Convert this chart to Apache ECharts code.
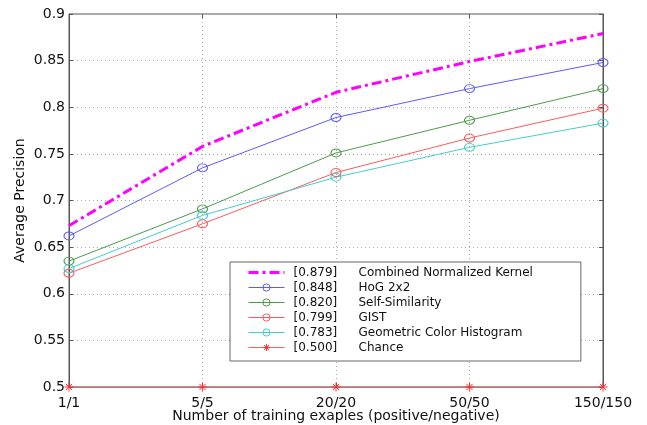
<!DOCTYPE html>
<html>
<head>
<meta charset="utf-8">
<script src="https://cdn.jsdelivr.net/npm/echarts@6/dist/echarts.min.js"></script>
<style>
  html, body { margin: 0; padding: 0; background: #fff; }
  #chart { width: 647px; height: 425px; }
</style>
</head>
<body>
<div id="chart"></div>
<script>
// data
const categories = ["1/1", "5/5", "20/20", "50/50", "150/150"];
const combined = [0.673, 0.758, 0.816, 0.849, 0.879];
const hog = [0.662, 0.735, 0.789, 0.820, 0.848];
const selfSim = [0.635, 0.691, 0.751, 0.786, 0.820];
const gist = [0.622, 0.675, 0.730, 0.767, 0.799];
const geoColor = [0.627, 0.684, 0.725, 0.757, 0.783];
const chance = [0.5, 0.5, 0.5, 0.5, 0.5];
const names = ["Combined Normalized Kernel", "HoG 2x2", "Self-Similarity", "GIST", "Geometric Color Histogram", "Chance"];
const scores = ["[0.879]", "[0.848]", "[0.820]", "[0.799]", "[0.783]", "[0.500]"];

const FONT = "DejaVu Sans";
const ellipse = "path://M0,4a5,4 0 1,0 10,0a5,4 0 1,0 -10,0z";
const star = "path://M5,0L5,10M0,5L10,5M1.5,1.5L8.5,8.5M1.5,8.5L8.5,1.5";

function lineSeries(name, data, color, extra) {
  return Object.assign({
    name: name,
    type: "line",
    data: data,
    symbol: ellipse,
    symbolSize: [10, 8],
    showAllSymbol: true,
    animation: false,
    lineStyle: { color: color, width: 1 },
    itemStyle: { color: "transparent", borderColor: color, borderWidth: 1 },
    emphasis: { disabled: true },
  }, extra || {});
}

const myChart = echarts.init(document.getElementById("chart"));
const option = {
  animation: false,
  textStyle: { fontFamily: FONT },
  grid: {
    left: 69, right: 44, top: 14, bottom: 38,
    outerBoundsMode: "none",
    containLabel: false,
    show: true, borderColor: "#555", borderWidth: 1,
  },
  legend: {
    orient: "vertical",
    left: 230, top: 262,
    padding: [3, 48, 6, 17],
    backgroundColor: "#fff",
    borderColor: "#666", borderWidth: 1,
    itemWidth: 36, itemHeight: 9, itemGap: 0,
    lineStyle: { width: "inherit" },
    itemStyle: { borderWidth: "inherit" },
    data: names,
    formatter: function (n) {
      return "{a|" + scores[names.indexOf(n)] + "}{b|" + n + "}";
    },
    textStyle: {
      fontFamily: FONT, fontSize: 12, color: "#111", lineHeight: 15,
      rich: {
        a: { fontFamily: FONT, fontSize: 12, color: "#111", lineHeight: 15, width: 65, padding: [0, 0, 0, 4] },
        b: { fontFamily: FONT, fontSize: 12, color: "#111", lineHeight: 15 },
      },
    },
  },
  xAxis: [{
    type: "category",
    data: categories,
    boundaryGap: false,
    name: "Number of training exaples (positive/negative)",
    nameLocation: "middle",
    nameGap: 22,
    nameMoveOverlap: false,
    nameTextStyle: { fontFamily: FONT, fontSize: 14, color: "#111" },
    axisLine: { lineStyle: { color: "#888" } },
    axisTick: { inside: true, length: 4, lineStyle: { color: "#555" } },
    axisLabel: { fontFamily: FONT, fontSize: 14, color: "#111", margin: 9 },
    splitLine: { show: true, lineStyle: { color: "#aaa", type: [1, 3] } },
  }, {
    type: "category",
    data: categories,
    boundaryGap: false,
    position: "top",
    axisLine: { show: false },
    axisTick: { inside: true, length: 4, lineStyle: { color: "#555" } },
    axisLabel: { show: false },
    splitLine: { show: false },
  }],
  yAxis: [{
    type: "value",
    min: 0.5, max: 0.9, interval: 0.05,
    name: "Average Precision",
    nameLocation: "middle",
    nameGap: 42,
    nameMoveOverlap: false,
    nameTextStyle: { fontFamily: FONT, fontSize: 14, color: "#111" },
    axisLine: { show: true, lineStyle: { color: "#555" } },
    axisTick: { show: true, inside: true, length: 4, lineStyle: { color: "#555" } },
    axisLabel: {
      fontFamily: FONT, fontSize: 14, color: "#111", margin: 4,
      formatter: function (v) { return String(parseFloat(v.toFixed(2))); },
    },
    splitLine: { show: true, lineStyle: { color: "#aaa", type: [1, 3] } },
  }, {
    type: "value",
    min: 0.5, max: 0.9, interval: 0.05,
    position: "right",
    axisLine: { show: true, lineStyle: { color: "#555" } },
    axisTick: { show: true, inside: true, length: 4, lineStyle: { color: "#555" } },
    axisLabel: { show: false },
    splitLine: { show: false },
  }],
  series: [
    lineSeries(names[0], combined, "#ff00ff", {
      symbol: "none",
      lineStyle: { color: "#ff00ff", width: 3, type: [10, 4, 3, 4] },
      itemStyle: { color: "transparent", borderColor: "transparent", borderWidth: 0 },
      z: 5,
    }),
    lineSeries(names[1], hog, "#5a5aff"),
    lineSeries(names[2], selfSim, "#4c9a4c"),
    lineSeries(names[3], gist, "#ff5a5a"),
    lineSeries(names[4], geoColor, "#45cccc"),
    lineSeries(names[5], chance, "#ff6060", {
      symbol: star,
      symbolSize: 9,
      itemStyle: { color: "transparent", borderColor: "#ff3030", borderWidth: 1 },
    }),
  ],
};
myChart.setOption(option, true);
</script>
</body>
</html>
